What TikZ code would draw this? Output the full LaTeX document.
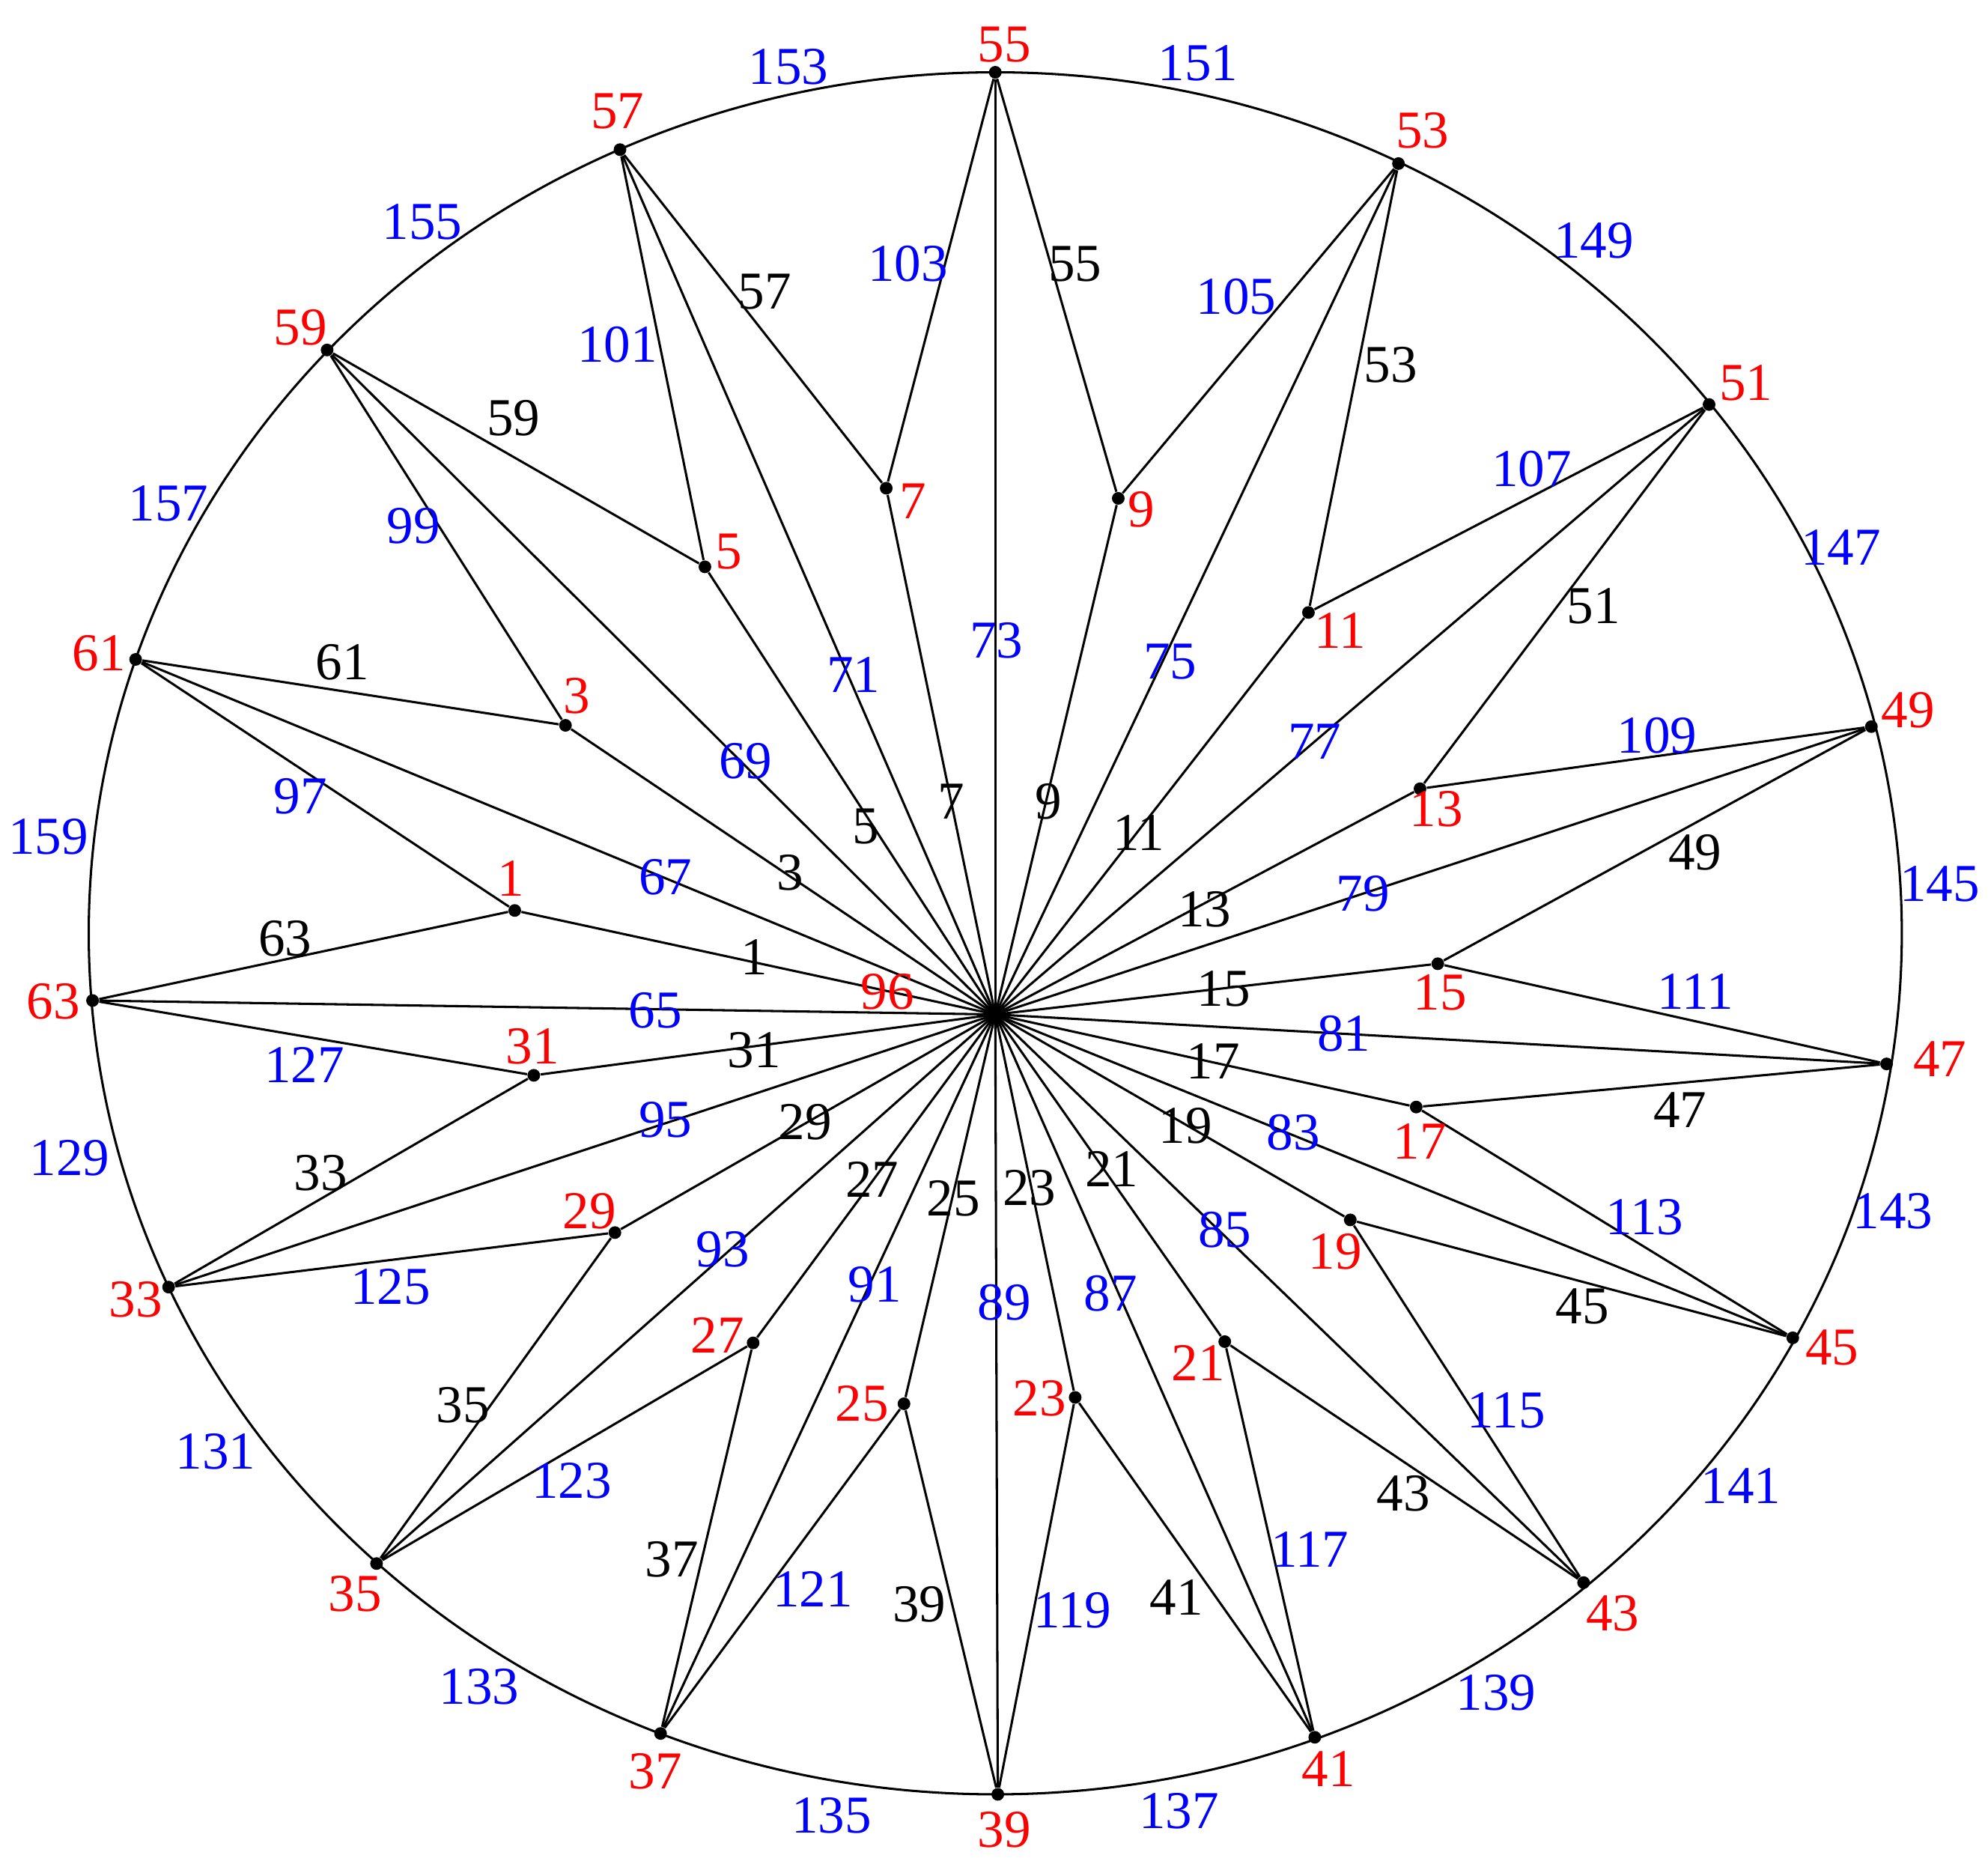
\documentclass[tikz,border=0pt]{standalone}
\usepackage{fontspec}
\setmainfont{Liberation Serif}
\begin{document}
\begin{tikzpicture}[x=0.5pt,y=-0.5pt,
  lbl/.style={font=\fontsize{21}{21}\selectfont,inner sep=0pt},
  red/.style={lbl,text=red},
  blk/.style={lbl,text=black},
  blu/.style={lbl,text=blue},
  edge/.style={draw=black,line width=0.9pt},
  dot/.style={circle,fill=black,inner sep=0pt,minimum size=5pt}]
\useasboundingbox (0,0) rectangle (1568,1477);
\draw[line width=0.9pt] (785,736) ellipse [x radius=715, y radius=679];
\coordinate (O) at (785,800);
% outer
\foreach \n/\x/\y in {55/785/57,57/489/118,59/258/276,61/107/520,63/73/789,33/133/1015,35/297/1233,37/521/1367,39/787/1415,41/1037/1370,43/1249/1248,45/1414/1055,47/1488/839,49/1476/573,51/1348/319,53/1103/129}
  {\node[dot] (o\n) at (\x,\y) {};}
% inner
\foreach \n/\x/\y in {1/406/718,3/446/572,5/556/447,7/699/385,9/882/393,11/1032/483,13/1120/622,15/1134/760,17/1117/873,19/1065/962,21/966/1058,23/848/1102,25/713/1107,27/594/1059,29/485/972,31/421/848}
  {\node[dot] (i\n) at (\x,\y) {};}
% spokes
\foreach \n in {55,57,59,61,63,33,35,37,39,41,43,45,47,49,51,53,1,3,5,7,9,11,13,15,17,19,21,23,25,27,29,31}
  {\ifnum\n>32 \draw[edge] (O) -- (o\n); \else \draw[edge] (O) -- (i\n); \fi}
% inner to outer
\foreach \i/\a/\b in {1/63/61,3/61/59,5/59/57,7/57/55,9/55/53,11/53/51,13/51/49,15/49/47,17/47/45,19/45/43,21/43/41,23/41/39,25/39/37,27/37/35,29/35/33,31/33/63}
  {\draw[edge] (o\a) -- (i\i) -- (o\b);}
% red labels
\foreach \t/\x/\y in {55/792/35,57/487/88,59/237/258,61/78/515,63/42/790,33/107/1025,35/280/1257,37/517/1397,39/792/1443,41/1048/1395,43/1272/1272,45/1445/1063,47/1530/835,49/1505/560,51/1377/302,53/1122/103,1/403/693,3/455/549,5/575/435,7/720/395,9/900/402,11/1057/497,13/1133/638,15/1136/783,17/1120/900,19/1053/987,21/945/1075,23/820/1103,25/680/1107,27/566/1053,29/465/955,31/420/825,96/700/782}
  {\node[red] (r\t) at (\x,\y) {\t};}
% black labels
\foreach \t/\x/\y in {1/595/755,3/623/688,5/683/652,7/750/632,9/827/632,11/898/657,13/950/717,15/965/780,17/957/837,19/935/888,21/877/922,23/812/937,25/752/945,27/688/930,29/635/885,31/595/828,63/225/740,61/270/522,59/405/330,57/603/230,55/848/208,53/1097/288,51/1257/478,49/1337/672,47/1325/875,45/1248/1030,43/1107/1178,41/928/1260,39/725/1265,37/530/1230,35/365/1108,33/253/925}
  {\node[blk] (k\t) at (\x,\y) {\t};}
% blue labels
\foreach \t/\x/\y in {65/517/797,67/525/692,69/588/600,71/673/532,73/786/505,75/923/522,77/1037/585,79/1075/705,81/1060/815,83/1020/893,85/966/970,87/876/1020,89/792/1027,91/690/1013,93/570/985,95/525/883,97/237/628,99/326/415,101/487/272,103/716/208,105/975/234,107/1208/370,109/1307/580,111/1337/782,113/1297/960,115/1188/1112,117/1033/1222,119/846/1270,121/641/1253,123/451/1168,125/308/1015,127/240/840,129/55/913,131/170/1145,133/378/1330,135/656/1432,137/930/1428,139/1180/1335,141/1373/1172,143/1493/955,145/1530/697,147/1452/432,149/1257/190,151/945/50,153/622/53,155/333/175,157/133/397,159/38/660}
  {\node[blu] (b\t) at (\x,\y) {\t};}
\end{tikzpicture}
\end{document}
